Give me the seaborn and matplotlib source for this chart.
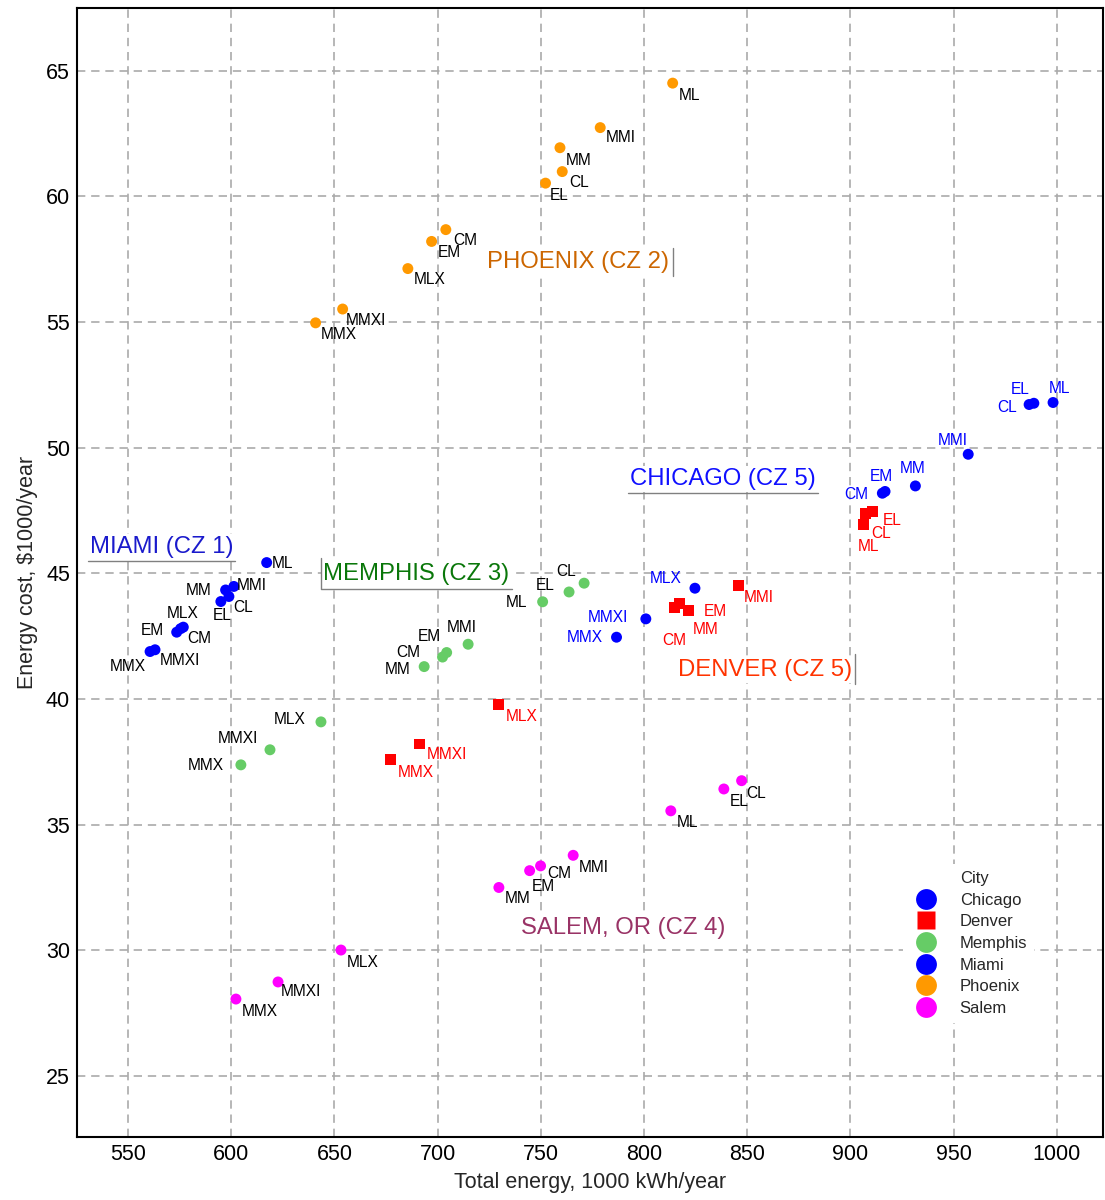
import numpy as np
import pandas as pd
import matplotlib
matplotlib.use("Agg")
import matplotlib.pyplot as plt
import seaborn as sns
from matplotlib.lines import Line2D

# ---------------- data ----------------
chicago_codes = ["ML", "EL", "CL", "MMI", "MM", "EM", "CM", "MLX", "MMXI", "MMX"]
chicago_energy = [998.2, 988.9, 986.6, 957.1, 931.5, 916.8, 915.5, 824.7, 800.9, 786.7]
chicago_cost = [51.80, 51.77, 51.72, 49.74, 48.48, 48.26, 48.19, 44.41, 43.19, 42.46]

denver_codes = ["EL", "CL", "ML", "MMI", "EM", "MM", "CM", "MLX", "MMXI", "MMX"]
denver_energy = [910.7, 907.5, 906.5, 845.6, 817.1, 821.4, 815.0, 729.4, 691.4, 677.2]
denver_cost = [47.48, 47.37, 46.94, 44.51, 43.79, 43.51, 43.64, 39.77, 38.21, 37.60]

memphis_codes = ["CL", "EL", "ML", "MMI", "EM", "CM", "MM", "MLX", "MMXI", "MMX"]
memphis_energy = [771.0, 763.7, 750.9, 714.8, 704.4, 702.4, 693.5, 643.5, 618.8, 604.7]
memphis_cost = [44.61, 44.26, 43.87, 42.18, 41.85, 41.67, 41.29, 39.09, 37.98, 37.38]

miami_codes = ["ML", "MMI", "MM", "CL", "EL", "MLX", "CM", "EM", "MMXI", "MMX"]
miami_energy = [617.2, 601.3, 597.3, 598.9, 595.0, 576.8, 575.5, 573.6, 563.1, 560.7]
miami_cost = [45.43, 44.48, 44.34, 44.08, 43.88, 42.86, 42.80, 42.66, 41.96, 41.89]

phoenix_codes = ["ML", "MMI", "MM", "CL", "EL", "CM", "EM", "MLX", "MMXI", "MMX"]
phoenix_energy = [813.9, 778.8, 759.3, 760.4, 752.3, 704.0, 697.1, 685.6, 654.0, 640.9]
phoenix_cost = [64.51, 62.74, 61.94, 60.99, 60.53, 58.68, 58.21, 57.13, 55.52, 54.97]

salem_codes = ["CL", "EL", "ML", "MMI", "CM", "EM", "MM", "MLX", "MMXI", "MMX"]
salem_energy = [847.3, 838.7, 813.0, 765.7, 749.9, 744.6, 729.7, 653.2, 622.7, 602.3]
salem_cost = [36.75, 36.42, 35.55, 33.78, 33.36, 33.17, 32.50, 30.01, 28.74, 28.06]

cities = ["Chicago", "Denver", "Memphis", "Miami", "Phoenix", "Salem"]
x_ticks = [550, 600, 650, 700, 750, 800, 850, 900, 950, 1000]
y_ticks = [25, 30, 35, 40, 45, 50, 55, 60, 65]

# ---------------- styling (not data) ----------------
palette = {"Chicago": "#0000FF", "Denver": "#FF0000", "Memphis": "#66CC66",
           "Miami": "#0000FF", "Phoenix": "#FF9900", "Salem": "#FF00FF"}
markers = {"Chicago": "o", "Denver": "s", "Memphis": "o",
           "Miami": "o", "Phoenix": "o", "Salem": "o"}
label_color = {"Chicago": "#0000FF", "Denver": "#FF0000", "Memphis": "black",
               "Miami": "black", "Phoenix": "black", "Salem": "black"}
# label centre offsets from the dot, in pixels (dx right, dy down)
label_offsets = {
    "Chicago": [(6, -14), (-14, -14), (-22, 3), (-15, -14), (-3, -17), (-4, -15),
                (-26, 1), (-29, -10), (-38, -1), (-32, 0)],
    "Denver": [(20, 9), (15, 20), (5, 22), (21, 12), (36, 8), (17, 19), (-1, 33),
               (23, 12), (27, 11), (25, 13)],
    "Memphis": [(-18, -12), (-24, -6), (-26, 1), (-6, -17), (-17, -16), (-34, -5),
                (-27, 3), (-31, -2), (-32, -11), (-35, 1)],
    "Miami": [(16, 1), (18, -1), (-27, 1), (14, 11), (1, 14), (-1, -14), (19, 10),
              (-24, -2), (25, 11), (-22, 15)],
    "Phoenix": [(17, 12), (21, 10), (19, 13), (17, 11), (14, 12), (19, 11), (18, 11),
                (22, 11), (23, 11), (23, 12)],
    "Salem": [(15, 13), (15, 13), (17, 12), (21, 12), (19, 8), (14, 16), (19, 11),
              (22, 12), (23, 10), (24, 12)],
}

frames = []
for city, codes, en, co in [
    ("Chicago", chicago_codes, chicago_energy, chicago_cost),
    ("Denver", denver_codes, denver_energy, denver_cost),
    ("Memphis", memphis_codes, memphis_energy, memphis_cost),
    ("Miami", miami_codes, miami_energy, miami_cost),
    ("Phoenix", phoenix_codes, phoenix_energy, phoenix_cost),
    ("Salem", salem_codes, salem_energy, salem_cost),
]:
    frames.append(pd.DataFrame({"City": city, "Code": codes, "Energy": en, "Cost": co}))
df = pd.concat(frames, ignore_index=True)

sns.set_style("white")
plt.rcParams["font.family"] = ["Liberation Sans", "DejaVu Sans"]

fig = plt.figure(figsize=(11.05, 12), dpi=100)
ax = fig.add_axes([77 / 1105, 1 - 1137 / 1200, 1026 / 1105, 1129 / 1200])

sns.scatterplot(data=df, x="Energy", y="Cost", hue="City", style="City",
                hue_order=cities, style_order=cities, palette=palette,
                markers=markers, s=62, linewidth=0, legend=False, ax=ax, zorder=3)

ax.set_xlim(525.3, 1022.4)
ax.set_ylim(22.57, 67.5)
ax.set_xticks(x_ticks)
ax.set_yticks(y_ticks)
ax.grid(True, color="#AAAAAA", linestyle=(0, (5, 3.5)), linewidth=1.2)
ax.set_axisbelow(True)
ax.tick_params(direction="in", length=7, width=1.5, labelsize=15.5, colors="black",
               pad=5)
for sp in ax.spines.values():
    sp.set_color("black")
    sp.set_linewidth(1.5)
ax.set_xlabel("Total energy, 1000 kWh/year", fontsize=15.5, labelpad=5)
ax.set_ylabel("Energy cost, $1000/year", fontsize=15.5, labelpad=6)

# point labels
for city in cities:
    sub = df[df["City"] == city].reset_index(drop=True)
    for i, row in sub.iterrows():
        dx, dy = label_offsets[city][i]
        ax.annotate(row["Code"], (row["Energy"], row["Cost"]),
                    xytext=(dx, -dy), textcoords="offset pixels",
                    ha="center", va="center", fontsize=11.2,
                    color=label_color[city], zorder=4)

# city annotations
city_text = [
    ("PHOENIX (CZ 2)", 723.9, 57.40, "#CC6600"),
    ("CHICAGO (CZ 5)", 793.2, 48.76, "#1010FF"),
    ("MIAMI (CZ 1)", 531.6, 46.05, "#1A1ACC"),
    ("MEMPHIS (CZ 3)", 644.5, 44.98, "#0A770A"),
    ("DENVER (CZ 5)", 816.4, 41.16, "#FF3300"),
    ("SALEM, OR (CZ 4)", 740.4, 30.89, "#993366"),
]
for txt, x, y, c in city_text:
    ax.text(x, y, txt, color=c, fontsize=17.2, ha="left", va="center",
            zorder=5, bbox=dict(facecolor="white", edgecolor="none", pad=1.5))

lc = "#808080"
ax.plot([814.0, 814.0], [57.95, 56.84], color=lc, lw=1, zorder=5)
ax.plot([792.2, 884.2], [48.20, 48.20], color=lc, lw=1, zorder=5)
ax.plot([530.6, 601.8], [45.50, 45.50], color=lc, lw=1, zorder=5)
ax.plot([643.3, 643.3, 736.3], [45.60, 44.38, 44.38], color=lc, lw=1, zorder=5)
ax.plot([902.2, 902.2], [41.80, 40.60], color=lc, lw=1, zorder=5)

# legend
handles = [Line2D([], [], linestyle="None", marker=None)]
labels = ["City"]
for city in cities:
    handles.append(Line2D([], [], linestyle="None", marker=markers[city],
                          markersize=15 if markers[city] == "o" else 13,
                          markerfacecolor=palette[city], markeredgecolor="none"))
    labels.append(city)
leg = ax.legend(handles, labels, loc="upper left", bbox_to_anchor=(0.797, 0.249),
                fontsize=12, frameon=True, facecolor="white", edgecolor="none",
                framealpha=1, labelspacing=0.4, handlelength=2.0,
                handletextpad=1.0, borderpad=0.4)
leg.set_zorder(6)

fig.savefig("out.png", dpi=100)
